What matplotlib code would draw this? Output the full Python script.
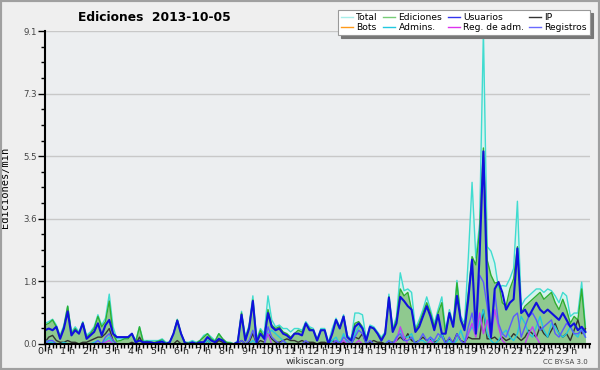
import numpy as np
import matplotlib
matplotlib.use("Agg")
import matplotlib.pyplot as plt
from matplotlib.patches import Rectangle
from matplotlib.ticker import FixedLocator, MultipleLocator

# 10-minute samples over one day (144 points), edits per minute
total = [
    0.6, 0.65, 0.72, 0.55, 0.25, 0.55,
    1.1, 0.35, 0.5, 0.35, 0.65, 0.25,
    0.35, 0.5, 0.85, 0.55, 0.75, 1.45,
    0.5, 0.15, 0.15, 0.15, 0.2, 0.3,
    0.1, 0.5, 0.1, 0.1, 0.1, 0.1,
    0.1, 0.15, 0.05, 0.05, 0.3, 0.72,
    0.3, 0.05, 0.05, 0.1, 0.05, 0.1,
    0.25, 0.3, 0.2, 0.1, 0.3, 0.15,
    0.05, 0.05, 0.0, 0.1, 0.95, 0.2,
    0.55, 1.4, 0.15, 0.45, 0.3, 1.4,
    0.7, 0.5, 0.55, 0.45, 0.45, 0.35,
    0.45, 0.45, 0.4, 0.65, 0.5, 0.45,
    0.15, 0.45, 0.45, 0.05, 0.45, 0.75,
    0.5, 0.85, 0.25, 0.15, 0.9, 0.9,
    0.85, 0.15, 0.55, 0.5, 0.35, 0.2,
    0.35, 1.45, 0.45, 0.8, 2.07, 1.55,
    1.6, 1.5, 0.45, 0.7, 1.0, 1.37,
    1.0, 0.6, 1.0, 1.37, 0.4, 1.0,
    0.6, 1.85, 0.8, 0.6, 2.5, 4.7,
    2.5, 3.5, 9.1, 2.83, 2.7, 2.35,
    1.63, 1.7, 1.68, 1.9, 2.2, 4.15,
    1.1, 1.3, 1.4, 1.5, 1.6, 1.6,
    1.5, 1.6, 1.55, 1.4, 1.2, 1.5,
    1.4, 0.8, 0.9, 0.9, 1.8, 0.5,
]
edits = [
    0.55, 0.6, 0.7, 0.5, 0.2, 0.5,
    1.1, 0.3, 0.45, 0.3, 0.62, 0.2,
    0.3, 0.45, 0.8, 0.5, 0.65, 1.25,
    0.3, 0.08, 0.1, 0.15, 0.15, 0.3,
    0.05, 0.5, 0.05, 0.08, 0.05, 0.05,
    0.08, 0.12, 0.02, 0.05, 0.3, 0.7,
    0.3, 0.05, 0.03, 0.05, 0.02, 0.1,
    0.2, 0.3, 0.15, 0.08, 0.3, 0.15,
    0.05, 0.03, 0.0, 0.05, 0.9, 0.15,
    0.5, 1.28, 0.1, 0.4, 0.2, 1.0,
    0.55, 0.45, 0.5, 0.35, 0.3, 0.2,
    0.3, 0.4, 0.35, 0.6, 0.45, 0.4,
    0.1, 0.4, 0.4, 0.0, 0.3, 0.7,
    0.45, 0.8, 0.2, 0.1, 0.6, 0.65,
    0.5, 0.1, 0.5, 0.45, 0.3, 0.15,
    0.3, 1.37, 0.4, 0.7, 1.6, 1.4,
    1.5, 1.0, 0.4, 0.6, 0.9, 1.2,
    0.9, 0.5, 0.9, 1.2, 0.3, 0.9,
    0.5, 1.78, 0.7, 0.5, 1.5, 2.54,
    2.3, 3.3, 5.7, 2.44, 2.0, 1.77,
    1.8, 1.2, 1.1, 1.6, 1.9, 2.83,
    0.9, 1.1, 1.2, 1.3, 1.4, 1.5,
    1.3, 1.4, 1.5, 1.2, 1.0, 1.3,
    1.0, 0.6, 0.8, 0.7, 1.6, 0.4,
]
users = [
    0.4, 0.45, 0.4, 0.5, 0.15, 0.45,
    0.95, 0.25, 0.4, 0.3, 0.6, 0.15,
    0.25, 0.35, 0.6, 0.25, 0.55, 0.7,
    0.3, 0.2, 0.2, 0.2, 0.2, 0.3,
    0.05, 0.1, 0.05, 0.05, 0.05, 0.02,
    0.05, 0.07, 0.0, 0.05, 0.3, 0.68,
    0.3, 0.03, 0.0, 0.05, 0.0, 0.05,
    0.05, 0.2, 0.1, 0.05, 0.15, 0.1,
    0.0, 0.0, 0.0, 0.05, 0.85, 0.1,
    0.45, 1.25, 0.05, 0.3, 0.15, 0.9,
    0.5, 0.4, 0.45, 0.3, 0.25, 0.15,
    0.3, 0.3, 0.25, 0.6, 0.4, 0.4,
    0.1, 0.4, 0.4, 0.0, 0.3, 0.7,
    0.45, 0.8, 0.2, 0.1, 0.5, 0.6,
    0.45, 0.1, 0.5, 0.45, 0.3, 0.1,
    0.3, 1.35, 0.35, 0.6, 1.37, 1.25,
    1.1, 1.0, 0.35, 0.5, 0.8, 1.1,
    0.8, 0.4, 0.85, 0.3, 0.3, 0.9,
    0.5, 1.4, 0.7, 0.4, 1.3, 2.45,
    0.3, 2.6, 5.6, 1.65, 0.2, 1.6,
    1.8, 1.5, 1.0, 1.2, 1.3, 2.78,
    0.9, 1.0, 0.8, 1.0, 1.2, 1.0,
    0.9, 1.0, 0.9, 0.8, 0.7, 0.9,
    0.7, 0.5, 0.6, 0.4, 0.5, 0.35,
]
ip = [
    0.05, 0.2, 0.25, 0.1, 0.05, 0.05,
    0.1, 0.05, 0.05, 0.0, 0.05, 0.05,
    0.1, 0.15, 0.2, 0.2, 0.3, 0.45,
    0.1, 0.0, 0.0, 0.0, 0.0, 0.05,
    0.0, 0.2, 0.0, 0.0, 0.0, 0.0,
    0.0, 0.0, 0.0, 0.0, 0.0, 0.1,
    0.0, 0.0, 0.0, 0.0, 0.0, 0.05,
    0.0, 0.1, 0.0, 0.0, 0.1, 0.05,
    0.0, 0.0, 0.0, 0.0, 0.1, 0.0,
    0.05, 0.3, 0.0, 0.1, 0.05, 0.3,
    0.15, 0.05, 0.05, 0.1, 0.15, 0.1,
    0.1, 0.05, 0.1, 0.05, 0.05, 0.05,
    0.0, 0.05, 0.05, 0.0, 0.1, 0.05,
    0.05, 0.05, 0.0, 0.0, 0.2, 0.15,
    0.3, 0.0, 0.05, 0.1, 0.05, 0.05,
    0.0, 0.05, 0.05, 0.1, 0.2, 0.1,
    0.3, 0.1, 0.05, 0.1, 0.2, 0.1,
    0.15, 0.05, 0.1, 0.3, 0.05, 0.15,
    0.05, 0.3, 0.1, 0.05, 0.2, 0.15,
    0.15, 0.15, 1.0, 0.15, 0.15, 0.2,
    0.1, 0.2, 0.1, 0.15, 0.3, 0.2,
    0.1, 0.2, 0.4, 0.3, 0.2, 0.5,
    0.3, 0.2, 0.4, 0.6, 0.3, 0.2,
    0.3, 0.1, 0.4, 0.7, 0.3, 0.45,
]
bots = [0.0] * 144
admins = [
    0.1, 0.05, 0.05, 0.0, 0.0, 0.05,
    0.0, 0.0, 0.0, 0.0, 0.0, 0.0,
    0.0, 0.05, 0.1, 0.0, 0.1, 0.2,
    0.0, 0.0, 0.0, 0.0, 0.0, 0.0,
    0.0, 0.0, 0.0, 0.0, 0.0, 0.0,
    0.0, 0.1, 0.0, 0.0, 0.0, 0.0,
    0.0, 0.0, 0.0, 0.0, 0.0, 0.0,
    0.0, 0.1, 0.0, 0.0, 0.0, 0.0,
    0.0, 0.0, 0.0, 0.0, 0.0, 0.0,
    0.0, 0.1, 0.0, 0.0, 0.0, 0.3,
    0.4, 0.3, 0.2, 0.1, 0.0, 0.0,
    0.0, 0.0, 0.0, 0.0, 0.0, 0.0,
    0.0, 0.0, 0.0, 0.0, 0.1, 0.2,
    0.0, 0.3, 0.0, 0.0, 0.3, 0.5,
    0.5, 0.0, 0.0, 0.0, 0.0, 0.0,
    0.0, 0.1, 0.0, 0.2, 0.4, 0.2,
    0.2, 0.3, 0.0, 0.1, 0.1, 0.0,
    0.2, 0.0, 0.1, 0.3, 0.0, 0.1,
    0.0, 0.1, 0.4, 0.1, 0.3, 0.5,
    0.3, 0.6, 1.0, 0.3, 0.1, 0.0,
    0.1, 0.3, 0.4, 0.2, 0.1, 0.3,
    0.8, 0.6, 0.3, 0.2, 0.5, 0.8,
    0.4, 0.2, 0.6, 0.5, 0.3, 0.2,
    0.3, 0.5, 0.3, 0.2, 0.5, 0.2,
]
reg_admin = [
    0.0, 0.0, 0.0, 0.0, 0.0, 0.0,
    0.0, 0.0, 0.0, 0.0, 0.0, 0.0,
    0.0, 0.0, 0.0, 0.0, 0.05, 0.1,
    0.0, 0.0, 0.0, 0.0, 0.0, 0.0,
    0.0, 0.0, 0.0, 0.0, 0.0, 0.0,
    0.0, 0.0, 0.0, 0.0, 0.0, 0.0,
    0.0, 0.0, 0.0, 0.0, 0.0, 0.0,
    0.0, 0.0, 0.0, 0.0, 0.0, 0.0,
    0.0, 0.0, 0.0, 0.0, 0.0, 0.0,
    0.0, 0.0, 0.0, 0.0, 0.0, 0.3,
    0.0, 0.0, 0.0, 0.0, 0.0, 0.0,
    0.0, 0.0, 0.0, 0.0, 0.0, 0.0,
    0.0, 0.0, 0.0, 0.0, 0.0, 0.1,
    0.0, 0.1, 0.0, 0.0, 0.0, 0.1,
    0.0, 0.0, 0.0, 0.0, 0.0, 0.0,
    0.0, 0.0, 0.0, 0.1, 0.5, 0.2,
    0.0, 0.0, 0.0, 0.0, 0.0, 0.0,
    0.1, 0.0, 0.0, 0.0, 0.0, 0.0,
    0.0, 0.0, 0.0, 0.0, 0.3, 0.6,
    0.2, 0.9, 0.3, 0.7, 0.2, 1.0,
    0.5, 0.1, 0.0, 0.0, 0.0, 0.0,
    0.0, 0.0, 0.3, 0.5, 0.2, 0.0,
    0.0, 0.0, 0.0, 0.0, 0.0, 0.0,
    0.0, 0.0, 0.0, 0.0, 0.0, 0.0,
]
registros = [
    0.0, 0.1, 0.1, 0.0, 0.0, 0.0,
    0.0, 0.0, 0.0, 0.0, 0.0, 0.0,
    0.0, 0.0, 0.1, 0.0, 0.2, 0.3,
    0.1, 0.0, 0.0, 0.0, 0.0, 0.0,
    0.0, 0.0, 0.0, 0.0, 0.0, 0.0,
    0.0, 0.0, 0.0, 0.0, 0.0, 0.0,
    0.0, 0.0, 0.0, 0.0, 0.0, 0.0,
    0.0, 0.0, 0.0, 0.0, 0.0, 0.0,
    0.0, 0.0, 0.0, 0.0, 0.1, 0.0,
    0.1, 0.4, 0.0, 0.0, 0.0, 0.5,
    0.2, 0.1, 0.0, 0.1, 0.0, 0.0,
    0.0, 0.0, 0.0, 0.1, 0.0, 0.0,
    0.0, 0.0, 0.0, 0.0, 0.0, 0.1,
    0.0, 0.2, 0.1, 0.0, 0.2, 0.4,
    0.3, 0.0, 0.1, 0.0, 0.0, 0.0,
    0.0, 0.1, 0.0, 0.2, 0.3, 0.1,
    0.1, 0.2, 0.0, 0.1, 0.3, 0.1,
    0.2, 0.1, 0.3, 0.2, 0.0, 0.2,
    0.0, 0.3, 0.1, 0.0, 0.5, 0.9,
    0.3, 2.0, 1.8, 1.1, 0.2, 1.5,
    0.6, 0.3, 0.2, 0.5, 0.8, 0.9,
    0.2, 0.5, 0.8, 0.9, 0.7, 0.4,
    0.5, 0.6, 0.7, 0.3, 0.2, 0.4,
    0.6, 0.5, 0.3, 0.3, 0.4, 0.2,
]
hour_labels = [f"{h} h" for h in range(24)]
ymax = 9.1

x = np.arange(len(total))
bg = "#efefef"

fig = plt.figure(figsize=(6, 3.7), dpi=100, facecolor=bg)
ax = fig.add_axes([0.075, 0.0703, 0.9083, 0.8459])
ax.set_facecolor("#eceef0")

ax.fill_between(x, total, color="#d6f2ee", lw=0, zorder=1)
ax.fill_between(x, edits, color="#8fc98f", lw=0, zorder=2)
ax.plot(x, total, color="#40dcd0", lw=1, zorder=3)
ax.plot(x, edits, color="#2fae2f", lw=1, zorder=4)
ax.plot(x, bots, color="#ff9a1a", lw=1, zorder=3)
ax.plot(x, ip, color="#333333", lw=1, zorder=5)
ax.plot(x, admins, color="#22c8e0", lw=1, zorder=5)
ax.plot(x, reg_admin, color="#c040f0", lw=1, zorder=5)
ax.plot(x, registros, color="#5a5aff", lw=1, zorder=5)
ax.plot(x, users, color="#1010dd", lw=1.5, zorder=6)

ax.set_xlim(0, 144.2)
ax.set_ylim(0, ymax)

ax.set_xticks(np.arange(0, 144, 6))
ax.set_xticklabels(hour_labels, fontsize=6.8, color="#222222")
ax.xaxis.set_minor_locator(MultipleLocator(1))
yt = [ymax * k / 5 for k in range(6)]
ax.set_yticks(yt)
ax.set_yticklabels([f"{v:.1f}" for v in yt], fontsize=6.2, color="#444444")
ax.yaxis.set_minor_locator(FixedLocator([ymax * k / 20 for k in range(21)]))
ax.tick_params(axis="both", which="major", length=5, width=1, color="black", pad=1)
ax.tick_params(axis="x", which="major", pad=-2.5)
ax.tick_params(axis="both", which="minor", length=3, width=1, color="black")

for v in yt[1:]:
    ax.axhline(v, color="#c8c8c8", lw=1, zorder=0)

for s in ["top", "right"]:
    ax.spines[s].set_visible(False)
for s in ["left", "bottom"]:
    ax.spines[s].set_linewidth(1.5)
    ax.spines[s].set_zorder(10)

ax.set_ylabel("Ediciones/min", family="DejaVu Sans Mono", fontsize=7.5)
ax.yaxis.set_label_coords(-0.064, 0.5)

fig.text(0.258, 0.954, "Ediciones  2013-10-05", ha="center", va="center",
         fontsize=8.8, fontweight="bold")
fig.text(0.525, 0.022, "wikiscan.org", ha="center", va="center", fontsize=6.8, color="#333333")
fig.text(0.942, 0.021, "CC BY-SA 3.0", ha="center", va="center", fontsize=5, color="#444444")

handles = []
for lab, col in [("Total", "#a8eeea"), ("Bots", "#ff9a1a"), ("Ediciones", "#77cc77"),
                 ("Admins.", "#22c8e0"), ("Usuarios", "#3333ee"), ("Reg. de adm.", "#dd33ee"),
                 ("IP", "#333333"), ("Registros", "#6a6aff")]:
    handles.append(plt.Line2D([], [], color=col, lw=1, label=lab))
leg = fig.legend(handles=handles, ncol=4, loc="upper right",
                 bbox_to_anchor=(0.983, 0.973), fontsize=6.6, frameon=True,
                 fancybox=False, shadow={"color": "#777777", "alpha": 1},
                 handlelength=1.3, handletextpad=0.35, columnspacing=0.6,
                 labelspacing=0.15, borderpad=0.3, borderaxespad=0)
leg.get_frame().set_edgecolor("#999999")
leg.get_frame().set_linewidth(0.8)

fig.patches.append(Rectangle((0, 0), 1, 1, transform=fig.transFigure, fill=False,
                             edgecolor="#a0a0a0", lw=3))

fig.savefig("out.png", dpi=100, facecolor=bg)
